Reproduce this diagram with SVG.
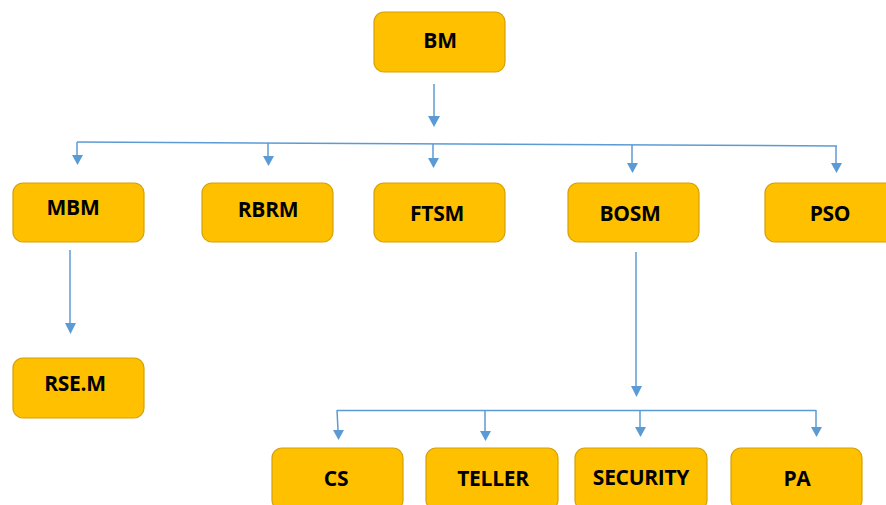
<svg xmlns="http://www.w3.org/2000/svg" width="886" height="505" viewBox="0 0 886 505">
<style>
.box{fill:#FFC000;stroke:#D4A106;stroke-width:1.2}
.lbl{font-family:"Open Sans","Liberation Sans",sans-serif;font-weight:bold;font-size:21px;fill:#000;text-anchor:middle;dominant-baseline:central;letter-spacing:-0.3px}
.ln{stroke:#5B9BD5;stroke-width:1.5;fill:none}
.ah{fill:#5B9BD5}
</style>
<g id="connectors">
<line class="ln" x1="434" y1="84" x2="434" y2="116"/>
<path class="ah" d="M428,116 L440,116 L434,127 Z"/>
<line class="ln" x1="77" y1="142" x2="837" y2="146"/>
<line class="ln" x1="77" y1="142" x2="77" y2="155"/>
<path class="ah" d="M72,155 L83,155 L77.5,165 Z"/>
<line class="ln" x1="268" y1="143" x2="268" y2="156"/>
<path class="ah" d="M263,156 L274,156 L268.5,166 Z"/>
<line class="ln" x1="433" y1="144" x2="433" y2="158"/>
<path class="ah" d="M428,158 L439,158 L433.5,168 Z"/>
<line class="ln" x1="632" y1="145" x2="632" y2="163"/>
<path class="ah" d="M627,163 L638,163 L632.5,173 Z"/>
<line class="ln" x1="836" y1="146" x2="836" y2="163"/>
<path class="ah" d="M831,163 L842,163 L836.5,173 Z"/>
<line class="ln" x1="70" y1="250" x2="70" y2="323"/>
<path class="ah" d="M65,323 L76,323 L70.5,334 Z"/>
<line class="ln" x1="636" y1="252" x2="636" y2="386"/>
<path class="ah" d="M631,386 L642,386 L636.5,397 Z"/>
<line class="ln" x1="337" y1="410.5" x2="816" y2="410.5"/>
<line class="ln" x1="337" y1="410" x2="338" y2="430"/>
<path class="ah" d="M333,430 L344,430 L338.5,440 Z"/>
<line class="ln" x1="485" y1="410" x2="485" y2="431"/>
<path class="ah" d="M480,431 L491,431 L485.5,441 Z"/>
<line class="ln" x1="640" y1="410" x2="640" y2="427"/>
<path class="ah" d="M635,427 L646,427 L640.5,437 Z"/>
<line class="ln" x1="816" y1="410" x2="816" y2="427"/>
<path class="ah" d="M811,427 L822,427 L816.5,437 Z"/>
</g>
<g id="BM"><rect class="box" x="374" y="12" width="131" height="60" rx="10"/><text class="lbl" x="440" y="40">BM</text></g>
<g id="MBM"><rect class="box" x="13" y="183" width="131" height="59" rx="10"/><text class="lbl" x="73" y="207">MBM</text></g>
<g id="RBRM"><rect class="box" x="202" y="183" width="131" height="59" rx="10"/><text class="lbl" x="268" y="209">RBRM</text></g>
<g id="FTSM"><rect class="box" x="374" y="183" width="131" height="59" rx="10"/><text class="lbl" x="437" y="213">FTSM</text></g>
<g id="BOSM"><rect class="box" x="568" y="183" width="131" height="59" rx="10"/><text class="lbl" x="630" y="213">BOSM</text></g>
<g id="PSO"><rect class="box" x="765" y="183" width="131" height="59" rx="10"/><text class="lbl" x="830" y="213">PSO</text></g>
<g id="RSEM"><rect class="box" x="13" y="358" width="131" height="60" rx="10"/><text class="lbl" x="75" y="383">RSE.M</text></g>
<g id="CS"><rect class="box" x="272" y="448" width="131" height="62" rx="10"/><text class="lbl" x="336" y="478">CS</text></g>
<g id="TELLER"><rect class="box" x="426" y="448" width="132" height="62" rx="10"/><text class="lbl" x="493" y="478">TELLER</text></g>
<g id="SECURITY"><rect class="box" x="575" y="448" width="132" height="62" rx="10"/><text class="lbl" x="641" y="477">SECURITY</text></g>
<g id="PA"><rect class="box" x="731" y="448" width="131" height="62" rx="10"/><text class="lbl" x="797" y="478">PA</text></g>
</svg>
